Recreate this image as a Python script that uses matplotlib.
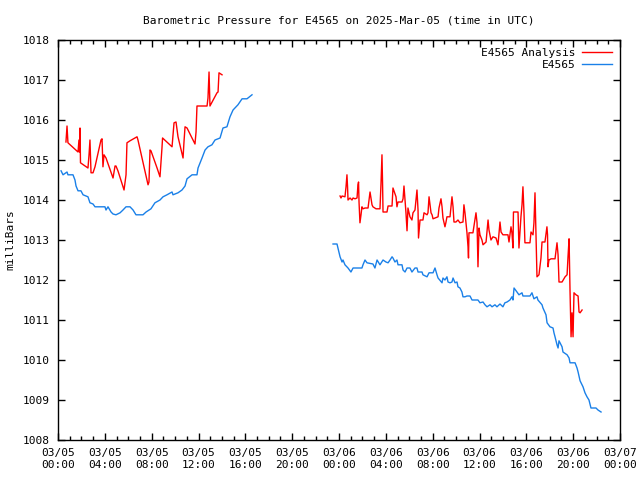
import matplotlib
matplotlib.use('Agg')
import matplotlib.pyplot as plt
import matplotlib.dates as mdates
import numpy as np
import pandas as pd

matplotlib.rcParams.update({'font.size': 8, 'font.family': 'DejaVu Sans Mono'})

start = pd.Timestamp('2025-03-05 00:00')

# observed pressure, hours since 03/05 00:00
obs_hours_1 = [0.26, 0.43, 0.77, 0.85, 1.28, 1.45, 1.54, 1.71, 1.96, 2.14, 2.56, 2.73, 2.99, 3.16,
               4.01, 4.10, 4.27, 4.53, 4.70, 4.95, 5.30, 5.55, 5.81, 6.15, 6.41, 6.66, 7.26, 7.52,
               7.94, 8.28, 8.71, 8.97, 9.31, 9.74, 9.82, 10.25, 10.59, 10.85, 11.02, 11.45, 11.87,
               11.96, 12.30, 12.56, 12.81, 13.15, 13.41, 13.84, 14.09, 14.43, 14.69, 14.95, 15.37,
               15.72, 16.14, 16.57]
obs_mb_1 = [1014.73, 1014.63, 1014.70, 1014.63, 1014.63, 1014.50, 1014.35, 1014.23, 1014.23,
            1014.13, 1014.08, 1013.93, 1013.90, 1013.83, 1013.83, 1013.75, 1013.83, 1013.70,
            1013.65, 1013.63, 1013.68, 1013.75, 1013.83, 1013.83, 1013.75, 1013.63, 1013.63,
            1013.70, 1013.78, 1013.93, 1014.00, 1014.08, 1014.13, 1014.20, 1014.13, 1014.18,
            1014.25, 1014.35, 1014.53, 1014.63, 1014.63, 1014.80, 1015.05, 1015.25, 1015.33,
            1015.38, 1015.50, 1015.55, 1015.80, 1015.83, 1016.08, 1016.25, 1016.38, 1016.53,
            1016.53, 1016.63]

obs_hours_2 = [23.49, 23.83, 23.91, 24.09, 24.26, 24.34, 24.51, 24.77, 25.02, 25.20, 25.96, 26.05,
               26.22, 26.39, 26.90, 27.07, 27.25, 27.50, 27.76, 28.01, 28.19, 28.36, 28.53, 28.61,
               28.78, 28.95, 29.04, 29.38, 29.47, 29.64, 29.81, 30.06, 30.23, 30.49, 30.66, 30.75,
               31.09, 31.17, 31.52, 31.69, 32.03, 32.20, 32.37, 32.46, 32.80, 32.88, 33.05, 33.22,
               33.31, 33.48, 33.65, 33.74, 33.91, 34.08, 34.16, 34.33, 34.50, 34.59, 34.76, 34.93,
               35.19, 35.36, 35.87, 36.04, 36.30, 36.47, 36.64, 36.90, 37.07, 37.32, 37.49, 37.75,
               38.00, 38.17, 38.35, 38.60, 38.77, 38.86, 38.95, 39.20, 39.37, 39.63, 39.71, 40.31,
               40.48, 40.65, 40.91, 40.99, 41.34, 41.42, 41.68, 41.77, 42.02, 42.28, 42.36, 42.45,
               42.62, 42.71, 42.79, 43.05, 43.13, 43.48, 43.65, 43.73, 44.16, 44.33, 44.42, 44.59,
               44.84, 45.01, 45.18, 45.35, 45.52, 45.95, 46.12, 46.38]
obs_mb_2 = [1012.90, 1012.90, 1012.80, 1012.58, 1012.45, 1012.50, 1012.38, 1012.30, 1012.20,
            1012.30, 1012.30, 1012.38, 1012.50, 1012.43, 1012.40, 1012.30, 1012.50, 1012.38,
            1012.50, 1012.45, 1012.43, 1012.50, 1012.58, 1012.55, 1012.45, 1012.50, 1012.38,
            1012.38, 1012.25, 1012.20, 1012.30, 1012.30, 1012.20, 1012.30, 1012.30, 1012.20,
            1012.20, 1012.13, 1012.08, 1012.18, 1012.18, 1012.30, 1012.13, 1012.05, 1011.93,
            1012.05, 1012.00, 1012.08, 1011.95, 1011.93, 1011.95, 1012.05, 1011.93, 1011.95,
            1011.83, 1011.80, 1011.70, 1011.58, 1011.58, 1011.60, 1011.60, 1011.50, 1011.50,
            1011.43, 1011.45, 1011.38, 1011.33, 1011.38, 1011.33, 1011.38, 1011.33, 1011.40,
            1011.33, 1011.43, 1011.45, 1011.50, 1011.58, 1011.50, 1011.80, 1011.70, 1011.63,
            1011.68, 1011.60, 1011.60, 1011.68, 1011.53, 1011.58, 1011.50, 1011.38, 1011.30,
            1011.13, 1010.93, 1010.83, 1010.80, 1010.68, 1010.58, 1010.38, 1010.30, 1010.48,
            1010.33, 1010.20, 1010.13, 1010.05, 1009.93, 1009.93, 1009.80, 1009.70, 1009.48,
            1009.33, 1009.18, 1009.08, 1009.00, 1008.80, 1008.80, 1008.75, 1008.70]

# analysis pressure
ana_hours_1 = [0.68, 0.77, 0.85, 1.71, 1.79, 1.84, 1.88, 1.92, 2.56, 2.65, 2.73, 2.82, 2.99, 3.16,
               3.67, 3.76, 3.84, 3.93, 4.10, 4.70, 4.87, 4.95, 5.12, 5.64, 5.81, 5.89, 6.15, 6.75,
               6.83, 7.69, 7.77, 7.86, 7.94, 8.46, 8.71, 8.88, 8.93, 9.74, 9.91, 10.08, 10.25,
               10.68, 10.76, 10.85, 11.02, 11.70, 11.79, 11.87, 12.73, 12.81, 12.90, 12.98, 13.58,
               13.67, 13.75, 14.01]
ana_mb_1 = [1015.45, 1015.85, 1015.43, 1015.20, 1015.50, 1015.20, 1015.80, 1014.93, 1014.80,
            1015.13, 1015.50, 1014.68, 1014.68, 1014.83, 1015.50, 1015.53, 1014.83, 1015.13,
            1015.05, 1014.55, 1014.85, 1014.85, 1014.73, 1014.25, 1014.63, 1015.43, 1015.48,
            1015.58, 1015.50, 1014.38, 1014.45, 1015.25, 1015.23, 1014.80, 1014.58, 1015.30,
            1015.55, 1015.33, 1015.93, 1015.95, 1015.58, 1015.05, 1015.45, 1015.83, 1015.80,
            1015.40, 1015.70, 1016.35, 1016.35, 1016.55, 1017.20, 1016.35, 1016.68, 1016.70,
            1017.18, 1017.13]

ana_hours_2 = [24.09, 24.17, 24.26, 24.51, 24.60, 24.68, 24.73, 24.77, 24.94, 25.11, 25.20, 25.37,
               25.54, 25.62, 25.67, 25.71, 25.79, 25.88, 25.96, 26.05, 26.22, 26.48, 26.65, 26.82,
               26.90, 27.16, 27.50, 27.59, 27.67, 27.72, 27.76, 28.10, 28.19, 28.53, 28.61, 28.87,
               28.95, 29.04, 29.38, 29.47, 29.55, 29.72, 29.81, 29.89, 30.06, 30.23, 30.32, 30.49,
               30.66, 30.75, 30.79, 30.92, 31.17, 31.26, 31.52, 31.60, 31.69, 31.86, 31.95, 32.03,
               32.20, 32.46, 32.54, 32.71, 32.80, 32.88, 33.05, 33.14, 33.22, 33.48, 33.65, 33.74,
               33.82, 33.99, 34.16, 34.33, 34.59, 34.67, 34.76, 34.93, 35.02, 35.06, 35.10, 35.44,
               35.70, 35.79, 35.87, 35.96, 36.04, 36.21, 36.30, 36.56, 36.73, 36.81, 36.98, 37.15,
               37.41, 37.58, 37.75, 37.84, 38.00, 38.17, 38.43, 38.52, 38.69, 38.77, 38.86, 38.90,
               39.29, 39.37, 39.54, 39.63, 39.71, 39.80, 39.88, 40.31, 40.40, 40.57, 40.65, 40.74,
               40.82, 40.91, 41.08, 41.25, 41.34, 41.59, 41.76, 41.81, 41.85, 41.93, 42.11, 42.45,
               42.62, 42.71, 42.79, 43.05, 43.31, 43.48, 43.56, 43.65, 43.73, 43.82, 43.90, 43.99,
               44.07, 44.24, 44.42, 44.50, 44.59, 44.76]
ana_mb_2 = [1014.10, 1014.05, 1014.10, 1014.08, 1014.33, 1014.63, 1014.33, 1014.00, 1014.05,
            1014.00, 1014.05, 1014.03, 1014.05, 1014.38, 1014.45, 1013.95, 1013.43, 1013.63,
            1013.83, 1013.78, 1013.80, 1013.80, 1014.20, 1013.88, 1013.83, 1013.78, 1013.78,
            1014.43, 1015.13, 1014.43, 1013.70, 1013.70, 1013.85, 1013.85, 1014.30, 1014.08,
            1013.83, 1013.95, 1013.95, 1014.03, 1014.35, 1013.68, 1013.23, 1013.80, 1013.58,
            1013.50, 1013.68, 1013.75, 1014.25, 1013.75, 1013.05, 1013.50, 1013.50, 1013.68,
            1013.63, 1013.68, 1014.08, 1013.68, 1013.63, 1013.53, 1013.55, 1013.58, 1013.80,
            1014.03, 1013.83, 1013.55, 1013.33, 1013.45, 1013.58, 1013.58, 1014.08, 1013.83,
            1013.45, 1013.45, 1013.50, 1013.43, 1013.45, 1013.88, 1013.68, 1013.18, 1012.83,
            1012.55, 1013.18, 1013.18, 1013.68, 1013.43, 1012.33, 1013.30, 1013.13, 1013.00,
            1012.88, 1012.95, 1013.50, 1013.25, 1013.00, 1013.08, 1013.05, 1012.88, 1013.45,
            1013.20, 1013.13, 1013.13, 1013.13, 1012.95, 1013.33, 1013.18, 1012.80, 1013.70,
            1013.70, 1012.80, 1013.58, 1013.88, 1014.33, 1013.68, 1012.93, 1012.93, 1013.20,
            1013.13, 1013.43, 1014.18, 1013.20, 1012.08, 1012.13, 1012.55, 1012.95, 1012.95,
            1013.33, 1013.13, 1012.33, 1012.50, 1012.53, 1012.53, 1012.93, 1012.63, 1011.95,
            1011.95, 1012.08, 1012.13, 1012.58, 1013.03, 1011.75, 1010.58, 1011.18, 1010.58,
            1011.68, 1011.63, 1011.60, 1011.20, 1011.18, 1011.25]


def to_time(hours):
    return start + pd.to_timedelta(np.array(hours), unit='h')


fig = plt.figure(figsize=(6.4, 4.8), dpi=100)
ax = fig.add_axes([58 / 640, 40 / 480, 562 / 640, 400 / 480])

red = '#ff0000'
blue = '#1a80e8'
ax.plot(to_time(ana_hours_1), ana_mb_1, color=red, lw=1, label='E4565 Analysis')
ax.plot(to_time(ana_hours_2), ana_mb_2, color=red, lw=1)
ax.plot(to_time(obs_hours_1), obs_mb_1, color=blue, lw=1, label='E4565')
ax.plot(to_time(obs_hours_2), obs_mb_2, color=blue, lw=1)

ax.set_xlim(start, start + pd.Timedelta(hours=48))
ax.set_ylim(1008, 1018)
ax.xaxis.set_major_locator(mdates.HourLocator(byhour=range(0, 24, 4)))
ax.xaxis.set_minor_locator(mdates.HourLocator())
ax.xaxis.set_major_formatter(mdates.DateFormatter('%m/%d\n%H:%M'))
ax.set_yticks(np.arange(1008, 1019, 1))
ax.tick_params(which='both', direction='in', top=True, right=True, width=1)
ax.tick_params(which='major', length=5, pad=6)
ax.tick_params(which='minor', length=3)
for s in ax.spines.values():
    s.set_linewidth(1)

ax.set_title('Barometric Pressure for E4565 on 2025-Mar-05 (time in UTC)', fontsize=8, pad=12)
ax.set_ylabel('milliBars', labelpad=5)
ax.legend(loc='upper right', frameon=False, markerfirst=False, handlelength=2.7,
          borderaxespad=0.3, labelspacing=0.2, handletextpad=0.6)

fig.savefig('out.png', dpi=100)
